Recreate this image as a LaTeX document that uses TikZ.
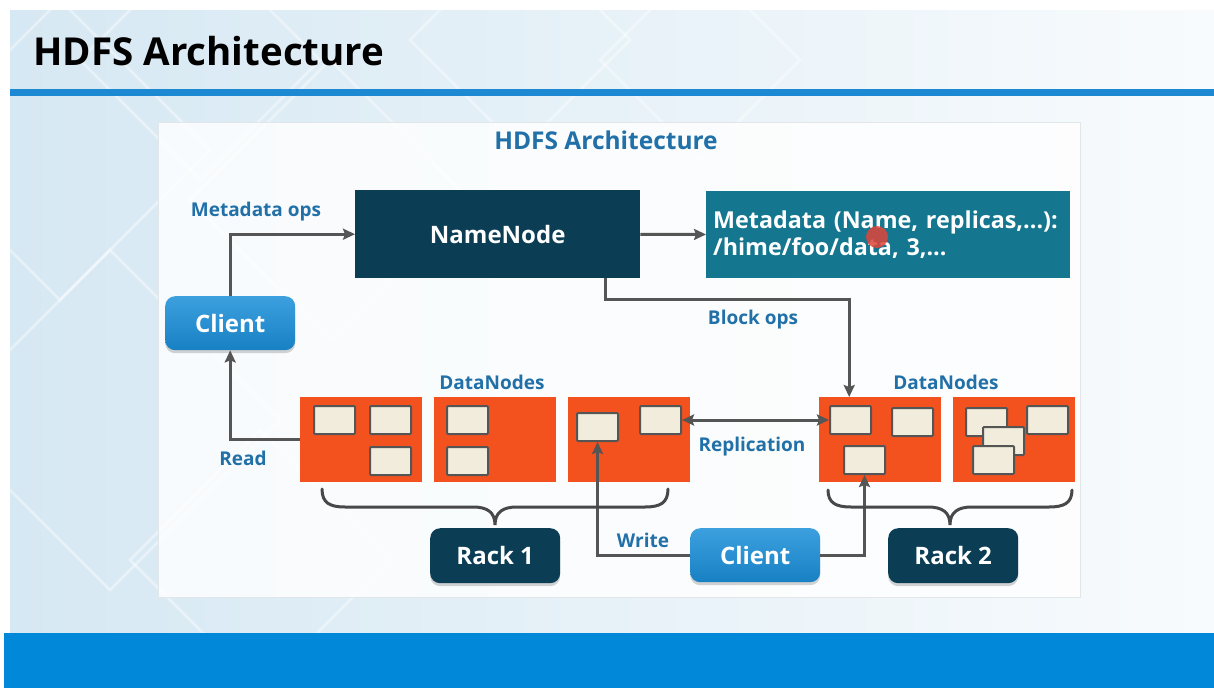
\documentclass[tikz,border=0pt]{standalone}
\usepackage{fontspec}
\setmainfont{Open Sans}
\usetikzlibrary{arrows.meta,shadows}
\definecolor{bgblue}{HTML}{D6E8F3}
\definecolor{bgwhite}{HTML}{F8FBFD}
\definecolor{lineblue}{HTML}{1D89D3}
\definecolor{bandblue}{HTML}{0288D9}
\definecolor{darkteal}{HTML}{0B3D55}
\definecolor{metateal}{HTML}{14768F}
\definecolor{clientblue}{HTML}{1A8FD9}
\definecolor{labelblue}{HTML}{2170A8}
\definecolor{dnorange}{HTML}{F3521F}
\definecolor{blockfill}{HTML}{F1ECDB}
\definecolor{arrgray}{HTML}{555555}
\definecolor{panelline}{HTML}{E2E6E9}
\definecolor{pointer}{HTML}{E0453A}
\tikzset{
  fnt/.style={font=\bfseries\fontsize{#1}{#1}\selectfont},
  darkbox/.style={fill=darkteal, text=white, fnt=24, inner sep=0pt},
  clientbox/.style={top color=clientblue!85!white, bottom color=clientblue!90!black, text=white, fnt=24,
    rounded corners=10pt, minimum width=130pt, minimum height=54pt, inner sep=0pt,
    drop shadow={opacity=0.35, shadow xshift=0pt, shadow yshift=-3pt}},
  rackbox/.style={fill=darkteal, text=white, fnt=24,
    rounded corners=10pt, minimum width=130pt, minimum height=55pt, inner sep=0pt,
    drop shadow={opacity=0.35, shadow xshift=0pt, shadow yshift=-3pt}},
  dnbox/.style={fill=dnorange, minimum width=122pt, minimum height=85pt, inner sep=0pt, anchor=north west},
  blk/.style={fill=blockfill, draw=arrgray, line width=2pt, rounded corners=1pt,
    minimum width=41pt, minimum height=28pt, inner sep=0pt, anchor=north west},
  lbl/.style={text=labelblue, fnt=19},
  arr/.style={draw=arrgray, line width=3pt, -{Stealth[length=12pt,width=11pt,inset=2pt]}},
  dblarr/.style={draw=arrgray, line width=3pt, {Stealth[length=12pt,width=11pt,inset=2pt]}-{Stealth[length=12pt,width=11pt,inset=2pt]}},
  bracepath/.style={draw=arrgray!85!black, line width=3pt, line cap=round},
}
\begin{document}
\begin{tikzpicture}[x=1pt,y=-1pt]
\useasboundingbox (0,0) rectangle (1214,688);
% background
\fill[white] (0,0) rectangle (1214,688);
\shade[left color=bgblue, right color=bgwhite] (10,10) rectangle (1214,633);
\begin{scope}
\clip (10,10) rectangle (1214,633);
\foreach \cx/\cy/\s in {60/150/150, 200/60/120, 110/420/170, 330/200/140, 520/40/110, 260/560/130, 700/60/100}{
  \draw[white, opacity=0.4, line width=2.5pt] (\cx-\s,\cy) -- (\cx,\cy-\s) -- (\cx+\s,\cy) -- (\cx,\cy+\s) -- cycle;
}
\end{scope}
% title and bars
\node[anchor=base west, fnt=38.5, text=black, inner sep=0pt] (title) at (33,65) {HDFS Architecture};
\fill[lineblue] (10,89) rectangle (1214,96);
\fill[bandblue] (4,633) rectangle (1214,688);
% panel
\fill[white, opacity=0.82] (158,122) rectangle (1080,597);
\draw[panelline, line width=1pt] (158,122) rectangle (1080,597);
\node[text=labelblue, fnt=24.5, inner sep=0pt] (subtitle) at (606,140) {HDFS Architecture};
% name node and metadata
\node[darkbox, minimum width=285pt, minimum height=88pt, anchor=north west] (nn) at (355,190) {NameNode};
\node[fill=metateal, text=white, align=left, text width=350pt, inner xsep=7pt,
  minimum height=87pt, anchor=north west, font=\bfseries\fontsize{23.3}{27}\selectfont] (meta) at (706,191)
  {Metadata (Name, replicas,...):\\/hime/foo/data, 3,...};
\fill[pointer, opacity=0.85] (877,237) circle (11pt);
% clients
\node[clientbox, anchor=north west] (cl1) at (165,296) {Client};
\node[clientbox, anchor=north west] (cl2) at (690,528) {Client};
% racks
\node[rackbox, anchor=north west] (r1) at (430,528) {Rack 1};
\node[rackbox, anchor=north west] (r2) at (888,528) {Rack 2};
% data nodes
\node[dnbox] (dn1) at (300,397) {};
\node[dnbox] (dn2) at (434,397) {};
\node[dnbox] (dn3) at (568,397) {};
\node[dnbox] (dn4) at (819,397) {};
\node[dnbox] (dn5) at (953,397) {};
\node[lbl] (dnl1) at (492,382) {DataNodes};
\node[lbl] (dnl2) at (946,382) {DataNodes};
% blocks
\node[blk] (b1a) at (313,405) {};
\node[blk] (b1b) at (369,405) {};
\node[blk] (b1c) at (369,446) {};
\node[blk] (b2a) at (446,405) {};
\node[blk] (b2b) at (446,446) {};
\node[blk] (b3a) at (576,412) {};
\node[blk] (b3b) at (639,405) {};
\node[blk] (b4a) at (829,405) {};
\node[blk] (b4b) at (891,407) {};
\node[blk] (b4c) at (843,445) {};
\node[blk] (b5a) at (965,407) {};
\node[blk] (b5b) at (982,426) {};
\node[blk] (b5c) at (972,445) {};
\node[blk] (b5d) at (1026,405) {};
% labels
\node[lbl] (lmeta) at (256,212) {Metadata ops};
\node[lbl] (lblock) at (753,320) {Block ops};
\node[lbl] (lread) at (243,458) {Read};
\node[lbl] (lrepl) at (752,447) {Replication};
\node[lbl] (lwrite) at (643,540) {Write};
% connectors
\draw[arr] (cl1) |- (nn);
\draw[arr] (nn) -- (meta);
\draw[arr] ([xshift=107.5pt]nn.south) -- ++(0,21) -| ([xshift=-31pt]dn4.north);
\draw[arr] (dn1.west) -| (cl1.south);
\draw[dblarr] (b3b.east) -- (b4a.west);
\draw[arr] (cl2.west) -| (b3a.south);
\draw[arr] (cl2.east) -| (b4c.south);
% braces
\draw[bracepath] (322,489) .. controls (322,503) and (330,507) .. (345,507) -- (473,507)
  .. controls (487,507) and (495,512) .. (495,525) .. controls (495,512) and (503,507) .. (517,507)
  -- (645,507) .. controls (660,507) and (668,503) .. (668,489);
\draw[bracepath] (828,490) .. controls (828,503) and (836,507) .. (851,507) -- (928,507)
  .. controls (942,507) and (950,512) .. (950,525) .. controls (950,512) and (958,507) .. (972,507)
  -- (1049,507) .. controls (1064,507) and (1072,503) .. (1072,490);
\end{tikzpicture}
\end{document}
